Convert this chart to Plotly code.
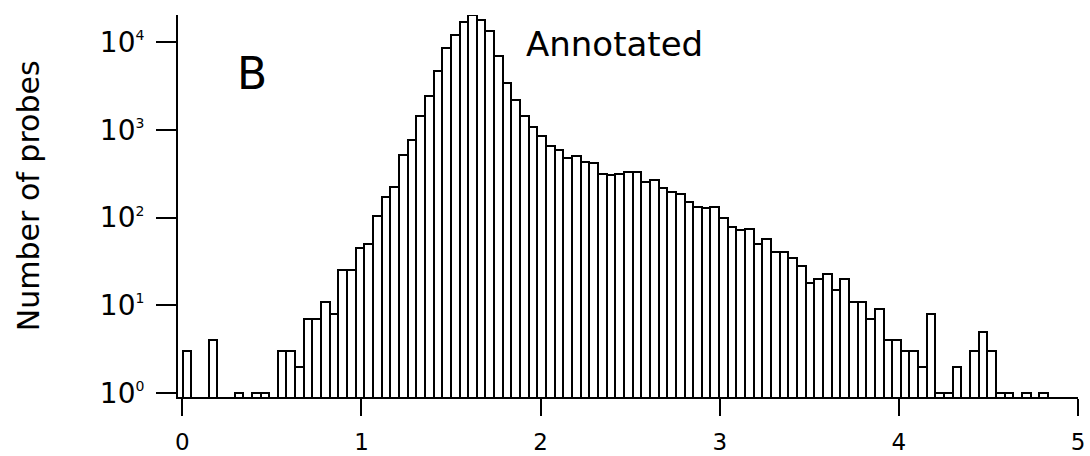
import plotly.graph_objects as go

# Histogram counts (100 bins); None = empty bin
counts = [3, None, None, 4, None, None, 1, None, 1, 1,
          None, 3, 3, 2, 7, 7, 11, 8, 25, 25,
          45, 50, 104, 173, 222, 518, 767, 1452, 2452, 4720,
          8630, 12050, 17070, 20370, 17860, 13370, 6950, 3450, 2190, 1452,
          1072, 852, 656, 591, 475, 508, 427, 417, 315, 306,
          315, 329, 334, 253, 269, 216, 198, 186, 150, 133,
          128, 133, 98, 79, 72, 74, 50, 57, 40, 40,
          35, 28, 18, 20, 23, 15, 20, 11, 11, 7,
          9, 4, 4, 3, 3, 2, 8, 1, 1, 2,
          None, 3, 5, 3, 1, 1, None, 1, None, 1]
bin_start = 0.002
bin_width = 0.0483
bin_centers = [bin_start + (i + 0.5) * bin_width for i in range(len(counts))]

x_ticks = [0, 1, 2, 3, 4, 5]
y_ticks = [1, 10, 100, 1000, 10000]
y_exponents = ["0", "1", "2", "3", "4"]
y_tick_text = ['10<sup><span style="font-size:14px">%s</span></sup>' % e for e in y_exponents]

FONT = "DejaVu Sans"

fig = go.Figure(go.Bar(
    x=bin_centers, y=counts, width=bin_width,
    marker=dict(color="white", line=dict(color="black", width=2)),
    showlegend=False, hoverinfo="skip",
))

fig.update_layout(
    width=1090, height=456,
    margin=dict(l=178, r=12, t=15, b=59),
    plot_bgcolor="white", paper_bgcolor="white",
    bargap=0,
    font=dict(family=FONT, color="black"),
    xaxis=dict(
        range=[-0.024, 5.0], tickvals=x_ticks, ticks="outside", ticklen=17,
        tickwidth=2, tickcolor="black", showline=True, linewidth=2, linecolor="black",
        showgrid=False, zeroline=False, ticklabelstandoff=6, automargin=False,
        tickfont=dict(family=FONT, size=23, color="black"),
    ),
    yaxis=dict(
        type="log", range=[-0.046, 4.31], tickvals=y_ticks, ticktext=y_tick_text,
        ticks="outside", ticklen=20, tickwidth=2, tickcolor="black",
        showline=True, linewidth=2, linecolor="black", showgrid=False, zeroline=False,
        automargin=False, ticklabelstandoff=6,
        tickfont=dict(family=FONT, size=28, color="black"),
    ),
    annotations=[
        dict(text="B", x=0.387, y=3.645, xref="x", yref="y", showarrow=False,
             font=dict(family=FONT, size=44, color="black"), xanchor="center", yanchor="middle"),
        dict(text="Annotated", x=2.413, y=3.978, xref="x", yref="y", showarrow=False,
             font=dict(family=FONT, size=34, color="black"), xanchor="center", yanchor="middle"),
        dict(text="Number of probes", x=-0.1666, y=0.526, xref="paper", yref="paper",
             showarrow=False, textangle=-90,
             font=dict(family=FONT, size=30, color="black"), xanchor="center", yanchor="middle"),
    ],
)

fig.write_html("out.html", config={"displayModeBar": False},
               post_script="document.body.style.margin='0';")
